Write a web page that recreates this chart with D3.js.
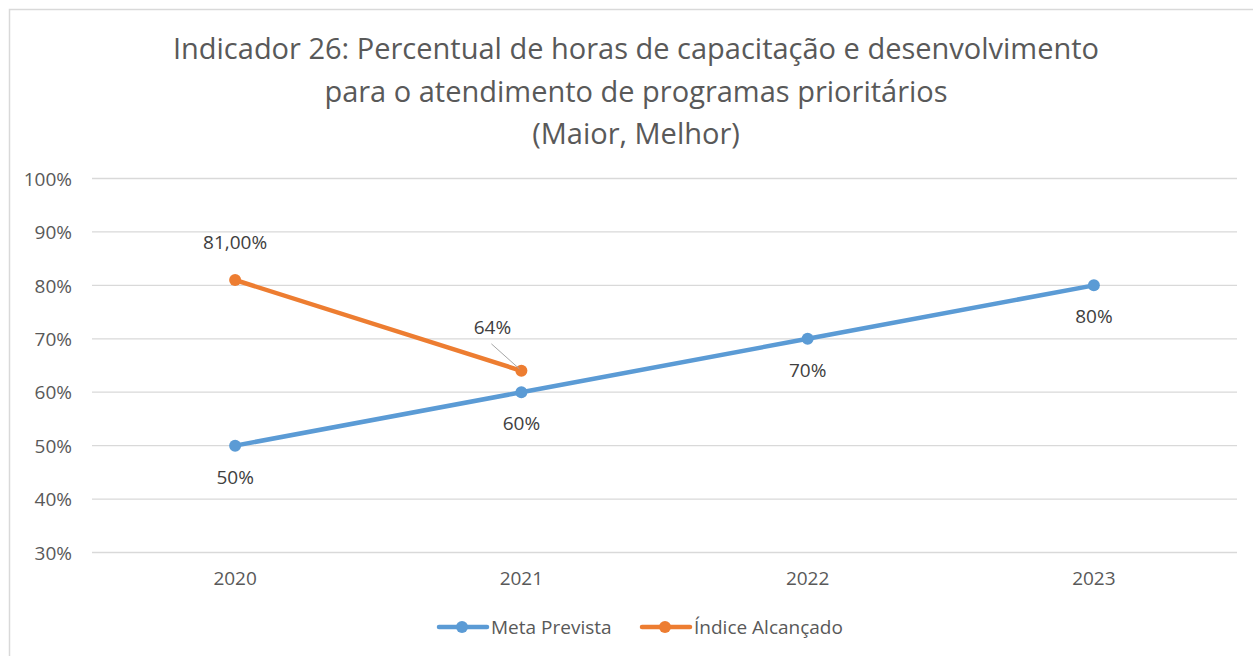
<!DOCTYPE html>
<html><head><meta charset="utf-8">
<script src="https://cdn.jsdelivr.net/npm/d3@7"></script>
<style>body{margin:0;background:#fff;}svg{display:block;}</style>
</head><body>
<script>
const categories = ["2020","2021","2022","2023"];
const metaPrevista = [0.50,0.60,0.70,0.80];
const indiceAlcancado = [0.81,0.64,null,null];
const metaLabels = ["50%","60%","70%","80%"];
const indiceLabels = ["81,00%","64%",null,null];
const yTicks = [0.3,0.4,0.5,0.6,0.7,0.8,0.9,1.0];
const titleLines = ["Indicador 26: Percentual de horas de capacitação e desenvolvimento","para o atendimento de programas prioritários","(Maior, Melhor)"];
const seriesNames = ["Meta Prevista","Índice Alcançado"];

const W=1253,H=656;
const font="'Open Sans', sans-serif";
const grey="#595959";
const blue="#5B9BD5", orange="#ED7D31";
const fs=19;
const svg=d3.select("body").append("svg").attr("width",W).attr("height",H);
svg.append("rect").attr("x",9.5).attr("y",9.5).attr("width",W).attr("height",H).attr("fill","#fff").attr("stroke","#d9d9d9").attr("stroke-width",1.5);

const x=d3.scaleBand().domain(categories).range([92,1237]);
const y=d3.scaleLinear().domain([0.3,1.0]).range([552.5,178.5]);
const cx=c=>x(c)+x.bandwidth()/2;

// title
svg.append("g").selectAll("text").data(titleLines).join("text")
  .attr("x",636).attr("y",(d,i)=>59+i*42.5).attr("text-anchor","middle")
  .attr("font-family",font).attr("font-size",29).attr("fill",grey).text(d=>d);

// gridlines
svg.append("g").selectAll("line").data(yTicks).join("line")
  .attr("x1",92).attr("x2",1237).attr("y1",d=>y(d)).attr("y2",d=>y(d))
  .attr("stroke","#d9d9d9").attr("stroke-width",1.3);

// y axis
const yAxis=d3.axisLeft(y).tickValues(yTicks).tickFormat(d3.format(".0%")).tickSize(0).tickPadding(20);
const ya=svg.append("g").attr("transform","translate(92,0)").call(yAxis);
ya.select(".domain").remove();
ya.selectAll("text").attr("font-family",font).attr("font-size",fs).attr("fill",grey).attr("dy","0.35em");

// x axis
const xAxis=d3.axisBottom(x).tickSize(0).tickPadding(20);
const xa=svg.append("g").attr("transform","translate(0,552.5)").call(xAxis);
xa.select(".domain").remove();
xa.selectAll("text").attr("font-family",font).attr("font-size",fs).attr("fill",grey).attr("dy","0.71em").attr("y",19);

// lines
const line=d3.line().defined(d=>d.v!=null).x(d=>cx(d.c)).y(d=>y(d.v));
const metaData=categories.map((c,i)=>({c,v:metaPrevista[i],l:metaLabels[i]}));
const indData=categories.map((c,i)=>({c,v:indiceAlcancado[i],l:indiceLabels[i]}));
svg.append("path").datum(metaData).attr("d",line).attr("fill","none").attr("stroke",blue).attr("stroke-width",4.5).attr("stroke-linecap","round");
svg.append("path").datum(indData).attr("d",line).attr("fill","none").attr("stroke",orange).attr("stroke-width",4.5).attr("stroke-linecap","round");
svg.append("g").selectAll("circle").data(metaData).join("circle").attr("cx",d=>cx(d.c)).attr("cy",d=>y(d.v)).attr("r",6).attr("fill",blue);
svg.append("g").selectAll("circle").data(indData.filter(d=>d.v!=null)).join("circle").attr("cx",d=>cx(d.c)).attr("cy",d=>y(d.v)).attr("r",6).attr("fill",orange);

// meta labels below
svg.append("g").selectAll("text").data(metaData).join("text")
  .attr("x",d=>cx(d.c)).attr("y",d=>y(d.v)+38).attr("text-anchor","middle")
  .attr("font-family",font).attr("font-size",fs).attr("fill","#404040").text(d=>d.l);

// indice labels
const ind0=indData[0], ind1=indData[1];
svg.append("text").attr("x",cx(ind0.c)).attr("y",y(ind0.v)-31).attr("text-anchor","middle")
  .attr("font-family",font).attr("font-size",fs).attr("fill","#404040").text(ind0.l);
svg.append("line").attr("x1",cx(ind1.c)-30).attr("y1",y(ind1.v)-27).attr("x2",cx(ind1.c)-2).attr("y2",y(ind1.v)-2)
  .attr("stroke","#a6a6a6").attr("stroke-width",1);
svg.append("text").attr("x",cx(ind1.c)-29).attr("y",y(ind1.v)-37).attr("text-anchor","middle")
  .attr("font-family",font).attr("font-size",fs).attr("fill","#404040").text(ind1.l);

// legend
const leg=[{n:seriesNames[0],c:blue,x:439},{n:seriesNames[1],c:orange,x:642}];
const lg=svg.append("g").selectAll("g").data(leg).join("g").attr("transform",d=>`translate(${d.x},627)`);
lg.append("line").attr("x1",0).attr("x2",48).attr("stroke",d=>d.c).attr("stroke-width",4.5).attr("stroke-linecap","round");
lg.append("circle").attr("cx",23).attr("r",6).attr("fill",d=>d.c);
lg.append("text").attr("x",52).attr("dy","0.35em").attr("font-family",font).attr("font-size",fs).attr("fill",grey).text(d=>d.n);
</script>
</body></html>
